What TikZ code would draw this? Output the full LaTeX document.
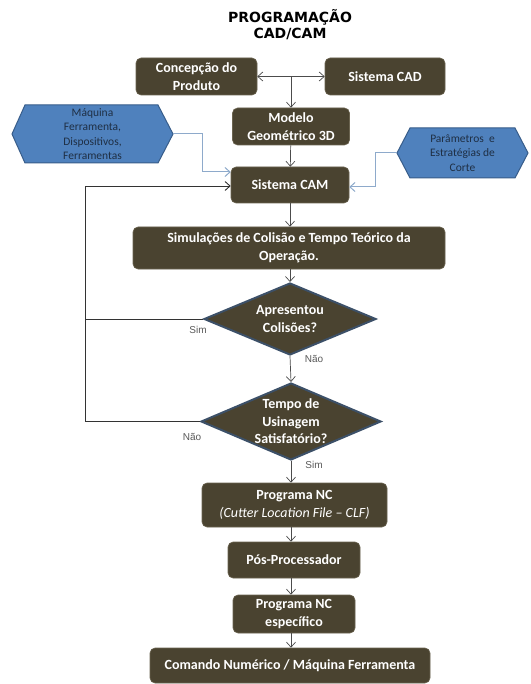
\documentclass[tikz,border=0pt]{standalone}
\usepackage{fontspec}
\setmainfont{Carlito}
\newfontfamily\titlefont{DejaVu Sans}
\newfontfamily\lblfont{Liberation Sans}
\usetikzlibrary{shapes.geometric,arrows.meta}
\definecolor{boxbrown}{HTML}{4A4330}
\definecolor{boxedge}{HTML}{6B6450}
\definecolor{dmdedge}{HTML}{3C5068}
\definecolor{hexblue}{HTML}{4F81BD}
\definecolor{hexedge}{HTML}{385D8A}
\definecolor{hextxt}{HTML}{1F2F44}
\definecolor{lightline}{HTML}{8EAACB}
\definecolor{lbl}{HTML}{595959}
\begin{document}
\begin{tikzpicture}[x=1pt,y=-1pt,
  box/.style={draw=boxedge,line width=0.6pt,fill=boxbrown,rounded corners=5pt,
    text=white,font=\fontsize{14}{17.5}\selectfont\bfseries,align=center,inner sep=2pt},
  dmd/.style={diamond,draw=dmdedge,line width=2pt,fill=boxbrown,inner sep=0pt},
  dtext/.style={text=white,font=\fontsize{14}{17.5}\selectfont\bfseries,align=center,inner sep=0pt},
  hex/.style={draw=hexedge,line width=1pt,fill=hexblue},
  hextext/.style={text=hextxt,font=\fontsize{11.5}{14.5}\selectfont,align=center,inner sep=0pt},
  arr/.style={draw=black!70,line width=0.7pt,-{Straight Barb[length=5pt,width=9pt]}},
  barr/.style={draw=black!80,line width=0.9pt,-{Straight Barb[length=5pt,width=9pt]}},
  larr/.style={draw=lightline,line width=1pt,-{Straight Barb[length=5pt,width=9pt]}},
  lab/.style={text=lbl,font=\lblfont\fontsize{10}{12}\selectfont,inner sep=0pt}]
\useasboundingbox (0,0) rectangle (530,684);
\fill[white] (0,0) rectangle (530,684);

% title
\node[font=\titlefont\bfseries\fontsize{14}{16}\selectfont,align=center,inner sep=0pt] (title) at (290,25) {PROGRAMAÇÃO\\CAD/CAM};

% boxes
\node[box,minimum width=121pt,minimum height=37pt] (concep) at (196.5,76.5) {Concepção do\\Produto};
\node[box,minimum width=120pt,minimum height=37pt] (cad) at (385,76.5) {Sistema CAD};
\node[box,minimum width=117pt,minimum height=37pt] (modelo) at (291,126.5) {Modelo\\Geométrico 3D};
\node[box,minimum width=118pt,minimum height=36pt] (cam) at (290,185) {Sistema CAM};
\node[box,minimum width=312pt,minimum height=42pt] (simul) at (289,248) {Simulações de Colisão e Tempo Teórico da\\Operação.};
\node[dmd,minimum width=172pt,minimum height=72pt] (apres) at (290,319) {};
\node[dtext] (apresT) at (apres.center) {Apresentou\\Colisões?};
\node[dmd,minimum width=180pt,minimum height=77pt] (tempo) at (291,421.5) {};
\node[dtext] (tempoT) at (tempo.center) {Tempo de\\Usinagem\\Satisfatório?};
\node[box,minimum width=185pt,minimum height=44pt] (prog) at (294.5,505) {Programa NC\\{\mdseries\itshape(Cutter Location File – CLF)}};
\node[box,minimum width=132pt,minimum height=36pt] (pos) at (294,560) {Pós-Processador};
\node[box,minimum width=122pt,minimum height=38pt] (esp) at (294,614) {Programa NC\\específico};
\node[box,minimum width=280pt,minimum height=35pt] (cmd) at (290,665.5) {Comando Numérico / Máquina Ferramenta};

% hexagons
\draw[hex] (12,134) -- (25,105) -- (158,105) -- (173,134) -- (158,163) -- (25,163) -- cycle;
\node[hextext] (maq) at (92.5,134) {Máquina\\Ferramenta,\\Dispositivos,\\Ferramentas};
\coordinate (maqR) at (173,134);
\draw[hex] (397,153) -- (410,128) -- (515,128) -- (528,153) -- (515,178) -- (410,178) -- cycle;
\node[hextext] (par) at (462.5,153) {Parâmetros~ e\\Estratégias de\\Corte};
\coordinate (parL) at (397,153);

% connectors
\draw[draw=black!70,line width=0.7pt,{Straight Barb[length=5pt,width=9pt]}-{Straight Barb[length=5pt,width=9pt]}] (concep.east) -- (cad.west);
\coordinate (split) at (291,76.5);
\draw[arr] (split) -- (modelo.north);
\draw[arr] (modelo) -- (cam);
\draw[arr] (cam.south) -- (cam.south |- simul.north);
\draw[arr] (simul.south -| apres.north) -- (apres.north);
\draw[arr] (apres.south) -- (tempo.north);
\draw[arr] (tempo.south) -- (tempo.south |- prog.north);
\draw[arr] (prog.south -| 291,0) -- (pos.north -| 291,0);
\draw[arr] (pos.south -| 291,0) -- (esp.north -| 291,0);
\draw[arr] (esp.south -| 291,0) -- (cmd.north -| 291,0);

\draw[larr] (maqR) -- (202,134) -- (202,172) -- (cam.west |- 0,172);
\draw[larr] (parL) -- (375,153) -- (375,187) -- (cam.east |- 0,187);

\draw[barr] (apres.west) -- (85,319) -- (85,186) -- (cam.west |- 0,186);
\draw[draw=black!80,line width=0.9pt] (tempo.west) -- (85,421.5) -- (85,319);

% labels
\node[lab] (l1) at (198,330) {Sim};
\node[lab] (l2) at (314,359) {Não};
\node[lab] (l3) at (192,437) {Não};
\node[lab] (l4) at (314,465) {Sim};
\end{tikzpicture}
\end{document}
